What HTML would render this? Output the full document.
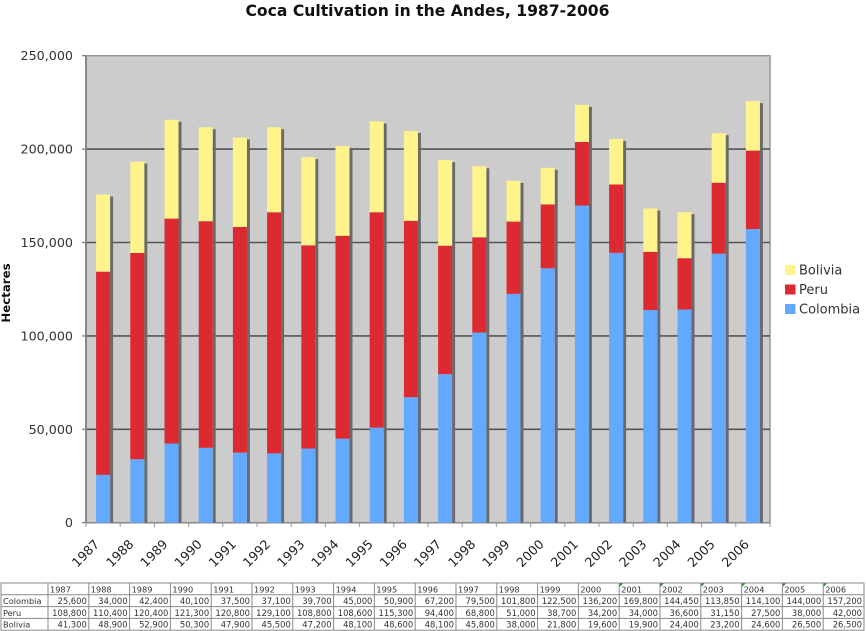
<!DOCTYPE html>
<html><head><meta charset="utf-8"><style>
html,body{margin:0;padding:0;background:#fff;}
svg{display:block;font-family:"DejaVu Sans","Liberation Sans",sans-serif;}
</style></head><body>
<svg width="866" height="631" viewBox="0 0 866 631" xmlns="http://www.w3.org/2000/svg">
<text x="427.5" y="16" text-anchor="middle" font-size="15.6" font-weight="bold" fill="#111">Coca Cultivation in the Andes, 1987-2006</text>
<!-- plot area -->
<rect x="86" y="55.7" width="684" height="467" fill="#cccccc" stroke="#999" stroke-width="1.5"/>
<g stroke="#555" stroke-width="1.6">
<line x1="86" y1="429.3" x2="770" y2="429.3"/>
<line x1="86" y1="335.9" x2="770" y2="335.9"/>
<line x1="86" y1="242.5" x2="770" y2="242.5"/>
<line x1="86" y1="149.1" x2="770" y2="149.1"/>
</g>
<line x1="86" y1="55.7" x2="86" y2="522.7" stroke="#888" stroke-width="2"/>
<line x1="86" y1="522.7" x2="770" y2="522.7" stroke="#888" stroke-width="1.5"/>
<!-- y ticks -->
<g stroke="#777" stroke-width="1.2">
<line x1="82" y1="522.7" x2="86" y2="522.7"/><line x1="82" y1="429.3" x2="86" y2="429.3"/><line x1="82" y1="335.9" x2="86" y2="335.9"/><line x1="82" y1="242.5" x2="86" y2="242.5"/><line x1="82" y1="149.1" x2="86" y2="149.1"/><line x1="82" y1="55.7" x2="86" y2="55.7"/>
</g>
<g font-size="12.7" fill="#333" text-anchor="end">
<text x="73" y="527.2">0</text>
<text x="73" y="433.8">50,000</text>
<text x="73" y="340.4">100,000</text>
<text x="73" y="247">150,000</text>
<text x="73" y="153.6">200,000</text>
<text x="73" y="60.2">250,000</text>
</g>
<text transform="translate(10,293) rotate(-90)" text-anchor="middle" font-size="11.8" font-weight="bold" fill="#111">Hectares</text>
<!-- x ticks -->
<g stroke="#999" stroke-width="1">
<line x1="86" y1="523" x2="86" y2="527"/><line x1="120.2" y1="523" x2="120.2" y2="527"/><line x1="154.4" y1="523" x2="154.4" y2="527"/><line x1="188.6" y1="523" x2="188.6" y2="527"/><line x1="222.8" y1="523" x2="222.8" y2="527"/><line x1="257" y1="523" x2="257" y2="527"/><line x1="291.2" y1="523" x2="291.2" y2="527"/><line x1="325.4" y1="523" x2="325.4" y2="527"/><line x1="359.6" y1="523" x2="359.6" y2="527"/><line x1="393.8" y1="523" x2="393.8" y2="527"/><line x1="428" y1="523" x2="428" y2="527"/><line x1="462.2" y1="523" x2="462.2" y2="527"/><line x1="496.4" y1="523" x2="496.4" y2="527"/><line x1="530.6" y1="523" x2="530.6" y2="527"/><line x1="564.8" y1="523" x2="564.8" y2="527"/><line x1="599" y1="523" x2="599" y2="527"/><line x1="633.2" y1="523" x2="633.2" y2="527"/><line x1="667.4" y1="523" x2="667.4" y2="527"/><line x1="701.6" y1="523" x2="701.6" y2="527"/><line x1="735.8" y1="523" x2="735.8" y2="527"/><line x1="770" y1="523" x2="770" y2="527"/>
</g>
<!-- shadows -->
<g fill="#6a6a6a">
<rect x="110.1" y="196.5" width="3" height="326.2"/>
<rect x="144.3" y="163.6" width="3" height="359.1"/>
<rect x="178.5" y="121.8" width="3" height="400.9"/>
<rect x="212.7" y="129.2" width="3" height="393.5"/>
<rect x="246.9" y="139.5" width="3" height="383.2"/>
<rect x="281.1" y="129.2" width="3" height="393.5"/>
<rect x="315.3" y="159.1" width="3" height="363.6"/>
<rect x="349.5" y="147.9" width="3" height="374.8"/>
<rect x="383.7" y="123.5" width="3" height="399.2"/>
<rect x="417.9" y="133" width="3" height="389.7"/>
<rect x="452.1" y="162.1" width="3" height="360.6"/>
<rect x="486.3" y="168.3" width="3" height="354.4"/>
<rect x="520.5" y="182.9" width="3" height="339.8"/>
<rect x="554.7" y="169.8" width="3" height="352.9"/>
<rect x="588.9" y="106.8" width="3" height="415.9"/>
<rect x="623.1" y="140.9" width="3" height="381.8"/>
<rect x="657.3" y="210.5" width="3" height="312.2"/>
<rect x="691.5" y="214.2" width="3" height="308.5"/>
<rect x="725.7" y="135.2" width="3" height="387.5"/>
<rect x="759.9" y="103.1" width="3" height="419.6"/>
</g>
<!-- Colombia -->
<g fill="#62a9ff">
<rect x="96.1" y="474.88" width="14" height="47.82"/>
<rect x="130.3" y="459.19" width="14" height="63.51"/>
<rect x="164.5" y="443.5" width="14" height="79.2"/>
<rect x="198.7" y="447.79" width="14" height="74.91"/>
<rect x="232.9" y="452.65" width="14" height="70.05"/>
<rect x="267.1" y="453.4" width="14" height="69.3"/>
<rect x="301.3" y="448.54" width="14" height="74.16"/>
<rect x="335.5" y="438.64" width="14" height="84.06"/>
<rect x="369.7" y="427.62" width="14" height="95.08"/>
<rect x="403.9" y="397.17" width="14" height="125.53"/>
<rect x="438.1" y="374.19" width="14" height="148.51"/>
<rect x="472.3" y="332.54" width="14" height="190.16"/>
<rect x="506.5" y="293.87" width="14" height="228.83"/>
<rect x="540.7" y="268.28" width="14" height="254.42"/>
<rect x="574.9" y="205.51" width="14" height="317.19"/>
<rect x="609.1" y="252.87" width="14" height="269.83"/>
<rect x="643.3" y="310.03" width="14" height="212.67"/>
<rect x="677.5" y="309.56" width="14" height="213.14"/>
<rect x="711.7" y="253.71" width="14" height="268.99"/>
<rect x="745.9" y="229.05" width="14" height="293.65"/>
</g>
<!-- Peru -->
<g fill="#dc2a30">
<rect x="96.1" y="271.64" width="14" height="203.24"/>
<rect x="130.3" y="252.96" width="14" height="206.23"/>
<rect x="164.5" y="218.59" width="14" height="224.91"/>
<rect x="198.7" y="221.2" width="14" height="226.59"/>
<rect x="232.9" y="227" width="14" height="225.65"/>
<rect x="267.1" y="212.24" width="14" height="241.16"/>
<rect x="301.3" y="245.3" width="14" height="203.24"/>
<rect x="335.5" y="235.78" width="14" height="202.86"/>
<rect x="369.7" y="212.24" width="14" height="215.38"/>
<rect x="403.9" y="220.83" width="14" height="176.34"/>
<rect x="438.1" y="245.68" width="14" height="128.51"/>
<rect x="472.3" y="237.27" width="14" height="95.27"/>
<rect x="506.5" y="221.58" width="14" height="72.29"/>
<rect x="540.7" y="204.39" width="14" height="63.89"/>
<rect x="574.9" y="142" width="14" height="63.51"/>
<rect x="609.1" y="184.5" width="14" height="68.37"/>
<rect x="643.3" y="251.84" width="14" height="58.19"/>
<rect x="677.5" y="258.19" width="14" height="51.37"/>
<rect x="711.7" y="182.72" width="14" height="70.99"/>
<rect x="745.9" y="150.59" width="14" height="78.46"/>
</g>
<!-- Bolivia -->
<g fill="#fff38c">
<rect x="96.1" y="194.49" width="14" height="77.15"/>
<rect x="130.3" y="161.62" width="14" height="91.34"/>
<rect x="164.5" y="119.77" width="14" height="98.82"/>
<rect x="198.7" y="127.24" width="14" height="93.96"/>
<rect x="232.9" y="137.52" width="14" height="89.48"/>
<rect x="267.1" y="127.24" width="14" height="85"/>
<rect x="301.3" y="157.13" width="14" height="88.17"/>
<rect x="335.5" y="145.92" width="14" height="89.86"/>
<rect x="369.7" y="121.45" width="14" height="90.79"/>
<rect x="403.9" y="130.98" width="14" height="89.85"/>
<rect x="438.1" y="160.12" width="14" height="85.56"/>
<rect x="472.3" y="166.29" width="14" height="70.98"/>
<rect x="506.5" y="180.86" width="14" height="40.72"/>
<rect x="540.7" y="167.78" width="14" height="36.61"/>
<rect x="574.9" y="104.83" width="14" height="37.17"/>
<rect x="609.1" y="138.92" width="14" height="45.58"/>
<rect x="643.3" y="208.5" width="14" height="43.34"/>
<rect x="677.5" y="212.24" width="14" height="45.95"/>
<rect x="711.7" y="133.22" width="14" height="49.5"/>
<rect x="745.9" y="101.09" width="14" height="49.5"/>
</g>
<!-- x labels -->
<g font-size="12.7" fill="#222" text-anchor="end">
<text transform="translate(100.1,545) rotate(-45)">1987</text>
<text transform="translate(134.3,545) rotate(-45)">1988</text>
<text transform="translate(168.5,545) rotate(-45)">1989</text>
<text transform="translate(202.7,545) rotate(-45)">1990</text>
<text transform="translate(236.9,545) rotate(-45)">1991</text>
<text transform="translate(271.1,545) rotate(-45)">1992</text>
<text transform="translate(305.3,545) rotate(-45)">1993</text>
<text transform="translate(339.5,545) rotate(-45)">1994</text>
<text transform="translate(373.7,545) rotate(-45)">1995</text>
<text transform="translate(407.9,545) rotate(-45)">1996</text>
<text transform="translate(442.1,545) rotate(-45)">1997</text>
<text transform="translate(476.3,545) rotate(-45)">1998</text>
<text transform="translate(510.5,545) rotate(-45)">1999</text>
<text transform="translate(544.7,545) rotate(-45)">2000</text>
<text transform="translate(578.9,545) rotate(-45)">2001</text>
<text transform="translate(613.1,545) rotate(-45)">2002</text>
<text transform="translate(647.3,545) rotate(-45)">2003</text>
<text transform="translate(681.5,545) rotate(-45)">2004</text>
<text transform="translate(715.7,545) rotate(-45)">2005</text>
<text transform="translate(749.9,545) rotate(-45)">2006</text>
</g>
<!-- legend -->
<rect x="785" y="265" width="10.5" height="10" fill="#fff38c"/>
<rect x="785" y="284.5" width="10.5" height="10" fill="#dc2a30"/>
<rect x="785" y="304" width="10.5" height="10" fill="#62a9ff"/>
<g font-size="13" fill="#333">
<text x="799" y="274.7">Bolivia</text>
<text x="799" y="294.2">Peru</text>
<text x="799" y="313.7">Colombia</text>
</g>
<!-- table -->
<g stroke="#8a8a8a" stroke-width="1" fill="none">
<rect x="1" y="583" width="863" height="47.2" fill="#fff"/>
<line x1="1" y1="594.8" x2="864" y2="594.8"/>
<line x1="1" y1="606.6" x2="864" y2="606.6"/>
<line x1="1" y1="618.4" x2="864" y2="618.4"/>
<line x1="48" y1="583" x2="48" y2="630.2"/><line x1="88.8" y1="583" x2="88.8" y2="630.2"/><line x1="129.6" y1="583" x2="129.6" y2="630.2"/><line x1="170.4" y1="583" x2="170.4" y2="630.2"/><line x1="211.2" y1="583" x2="211.2" y2="630.2"/><line x1="252" y1="583" x2="252" y2="630.2"/><line x1="292.8" y1="583" x2="292.8" y2="630.2"/><line x1="333.6" y1="583" x2="333.6" y2="630.2"/><line x1="374.4" y1="583" x2="374.4" y2="630.2"/><line x1="415.2" y1="583" x2="415.2" y2="630.2"/><line x1="456" y1="583" x2="456" y2="630.2"/><line x1="496.8" y1="583" x2="496.8" y2="630.2"/><line x1="537.6" y1="583" x2="537.6" y2="630.2"/><line x1="578.4" y1="583" x2="578.4" y2="630.2"/><line x1="619.2" y1="583" x2="619.2" y2="630.2"/><line x1="660" y1="583" x2="660" y2="630.2"/><line x1="700.8" y1="583" x2="700.8" y2="630.2"/><line x1="741.6" y1="583" x2="741.6" y2="630.2"/><line x1="782.4" y1="583" x2="782.4" y2="630.2"/><line x1="823.2" y1="583" x2="823.2" y2="630.2"/>
</g>
<g fill="#2a8a2a">
<polygon points="619.7,583.5 623,583.5 619.7,586.8"/>
<polygon points="660.5,583.5 663.8,583.5 660.5,586.8"/>
<polygon points="701.3,583.5 704.6,583.5 701.3,586.8"/>
<polygon points="742.1,583.5 745.4,583.5 742.1,586.8"/>
<polygon points="782.9,583.5 786.2,583.5 782.9,586.8"/>
<polygon points="823.7,583.5 827,583.5 823.7,586.8"/>
</g>
<g font-size="8.2" fill="#333">
<text x="50" y="592.3">1987</text><text x="90.8" y="592.3">1988</text><text x="131.6" y="592.3">1989</text><text x="172.4" y="592.3">1990</text><text x="213.2" y="592.3">1991</text><text x="254" y="592.3">1992</text><text x="294.8" y="592.3">1993</text><text x="335.6" y="592.3">1994</text><text x="376.4" y="592.3">1995</text><text x="417.2" y="592.3">1996</text><text x="458" y="592.3">1997</text><text x="498.8" y="592.3">1998</text><text x="539.6" y="592.3">1999</text><text x="580.4" y="592.3">2000</text><text x="621.2" y="592.3">2001</text><text x="662" y="592.3">2002</text><text x="702.8" y="592.3">2003</text><text x="743.6" y="592.3">2004</text><text x="784.4" y="592.3">2005</text><text x="825.2" y="592.3">2006</text>
<text x="3" y="604.1">Colombia</text>
<text x="3" y="615.9">Peru</text>
<text x="3" y="627.7">Bolivia</text>
</g>
<g font-size="8.4" fill="#333" text-anchor="end">
<text x="86.8" y="604.1">25,600</text><text x="127.6" y="604.1">34,000</text><text x="168.4" y="604.1">42,400</text><text x="209.2" y="604.1">40,100</text><text x="250" y="604.1">37,500</text><text x="290.8" y="604.1">37,100</text><text x="331.6" y="604.1">39,700</text><text x="372.4" y="604.1">45,000</text><text x="413.2" y="604.1">50,900</text><text x="454" y="604.1">67,200</text><text x="494.8" y="604.1">79,500</text><text x="535.6" y="604.1">101,800</text><text x="576.4" y="604.1">122,500</text><text x="617.2" y="604.1">136,200</text><text x="658" y="604.1">169,800</text><text x="698.8" y="604.1">144,450</text><text x="739.6" y="604.1">113,850</text><text x="780.4" y="604.1">114,100</text><text x="821.2" y="604.1">144,000</text><text x="862" y="604.1">157,200</text>
<text x="86.8" y="615.9">108,800</text><text x="127.6" y="615.9">110,400</text><text x="168.4" y="615.9">120,400</text><text x="209.2" y="615.9">121,300</text><text x="250" y="615.9">120,800</text><text x="290.8" y="615.9">129,100</text><text x="331.6" y="615.9">108,800</text><text x="372.4" y="615.9">108,600</text><text x="413.2" y="615.9">115,300</text><text x="454" y="615.9">94,400</text><text x="494.8" y="615.9">68,800</text><text x="535.6" y="615.9">51,000</text><text x="576.4" y="615.9">38,700</text><text x="617.2" y="615.9">34,200</text><text x="658" y="615.9">34,000</text><text x="698.8" y="615.9">36,600</text><text x="739.6" y="615.9">31,150</text><text x="780.4" y="615.9">27,500</text><text x="821.2" y="615.9">38,000</text><text x="862" y="615.9">42,000</text>
<text x="86.8" y="627.7">41,300</text><text x="127.6" y="627.7">48,900</text><text x="168.4" y="627.7">52,900</text><text x="209.2" y="627.7">50,300</text><text x="250" y="627.7">47,900</text><text x="290.8" y="627.7">45,500</text><text x="331.6" y="627.7">47,200</text><text x="372.4" y="627.7">48,100</text><text x="413.2" y="627.7">48,600</text><text x="454" y="627.7">48,100</text><text x="494.8" y="627.7">45,800</text><text x="535.6" y="627.7">38,000</text><text x="576.4" y="627.7">21,800</text><text x="617.2" y="627.7">19,600</text><text x="658" y="627.7">19,900</text><text x="698.8" y="627.7">24,400</text><text x="739.6" y="627.7">23,200</text><text x="780.4" y="627.7">24,600</text><text x="821.2" y="627.7">26,500</text><text x="862" y="627.7">26,500</text>
</g>
</svg>
</body></html>
